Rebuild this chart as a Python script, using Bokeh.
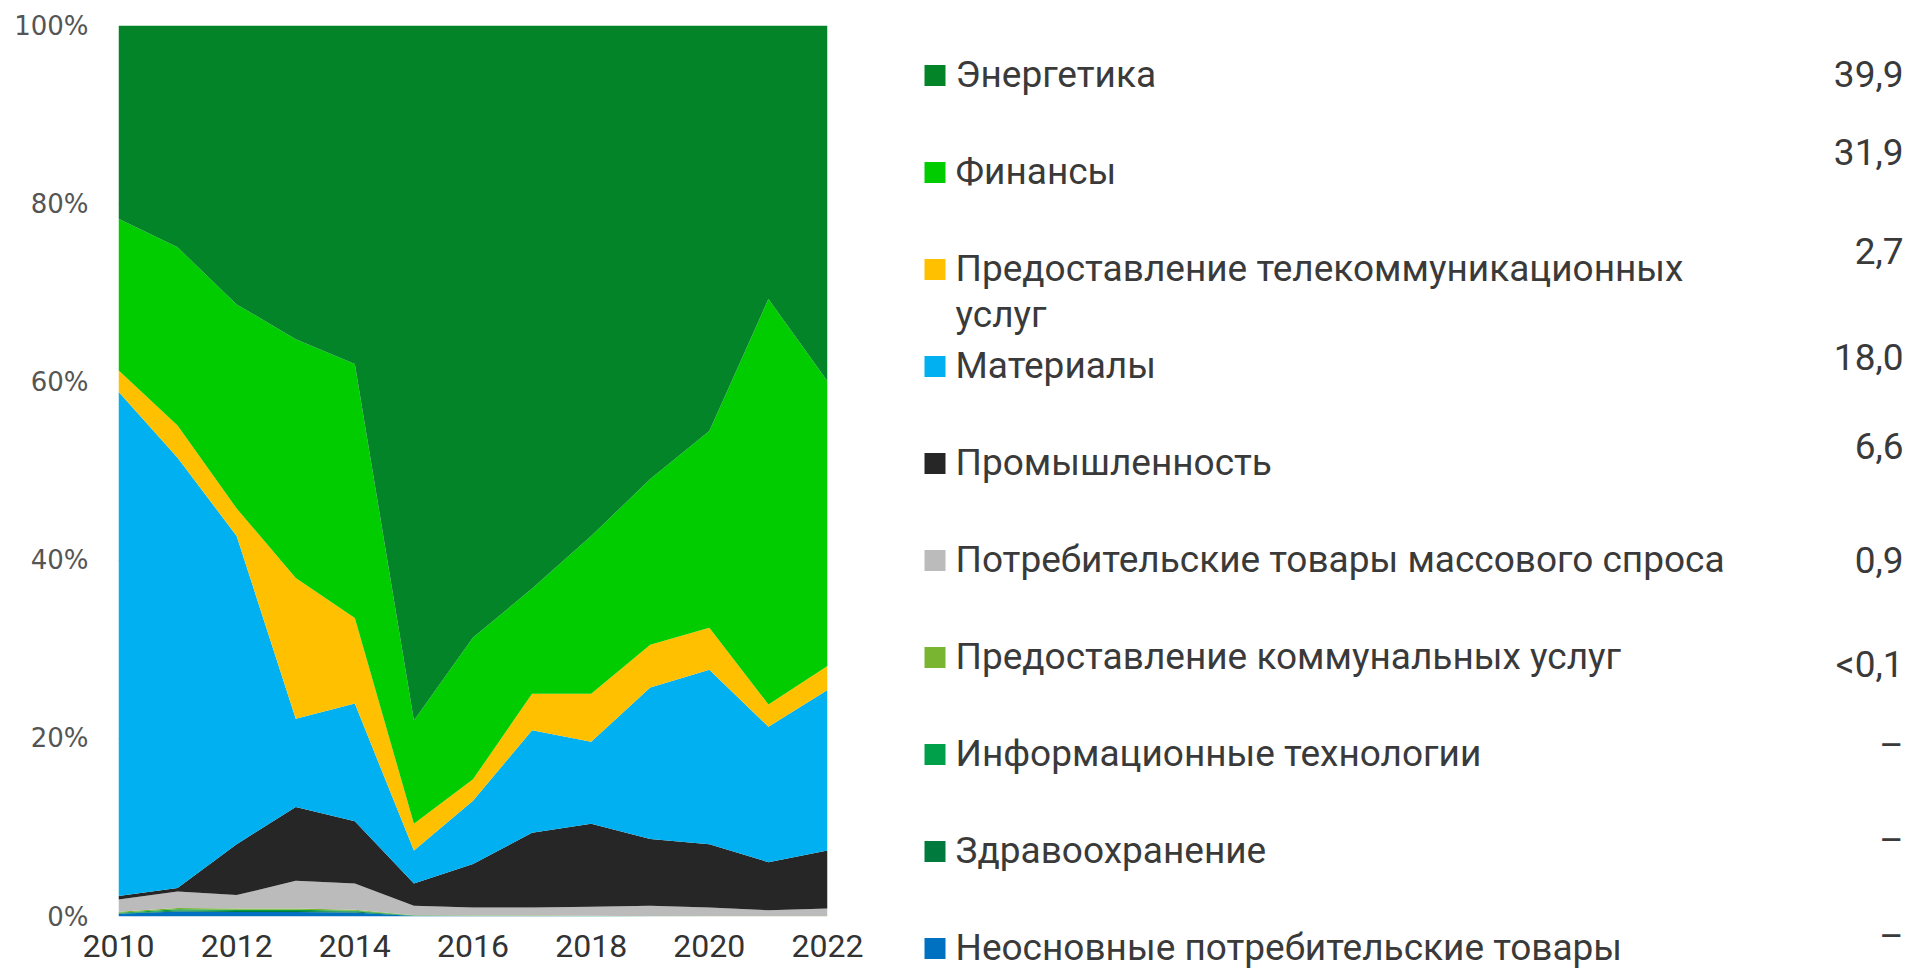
from bokeh.plotting import figure
from bokeh.models import FixedTicker, PrintfTickFormatter, Range1d, ColumnDataSource
from bokeh.embed import file_html
from bokeh.resources import INLINE
from bokeh.core.properties import value

# ---------------- data ----------------
years = list(range(2010, 2023))

# shares, % (stack order: bottom -> top)
consumer_disc = [0.30, 0.55, 0.50, 0.50, 0.45, 0.05, 0.04, 0.03, 0.02, 0.00, 0.00, 0.00, 0.00]
healthcare    = [0.05, 0.12, 0.12, 0.12, 0.10, 0.03, 0.02, 0.02, 0.02, 0.01, 0.00, 0.00, 0.00]
info_tech     = [0.08, 0.13, 0.13, 0.13, 0.10, 0.03, 0.02, 0.02, 0.02, 0.01, 0.00, 0.00, 0.00]
utilities     = [0.10, 0.15, 0.15, 0.15, 0.10, 0.04, 0.03, 0.03, 0.03, 0.02, 0.02, 0.02, 0.02]
staples       = [1.37, 1.85, 1.50, 3.10, 2.95, 1.05, 0.89, 0.90, 1.01, 1.16, 0.98, 0.68, 0.88]
industrials   = [0.40, 0.40, 5.70, 8.30, 7.00, 2.50, 4.90, 8.40, 9.30, 7.50, 7.10, 5.40, 6.50]
materials     = [56.6, 48.3, 34.6, 9.9, 13.2, 3.7, 7.1, 11.5, 9.2, 17.0, 19.6, 15.2, 18.0]
telecom       = [2.4, 3.6, 3.1, 15.8, 9.6, 3.0, 2.4, 4.1, 5.4, 4.8, 4.7, 2.5, 2.7]
finance       = [17.0, 20.0, 22.9, 26.8, 28.5, 11.6, 15.9, 11.8, 17.7, 18.6, 22.1, 45.5, 31.9]
energy        = [21.7, 24.9, 31.3, 35.2, 38.0, 78.0, 68.7, 63.2, 57.3, 50.9, 45.5, 30.7, 39.9]

series_keys = ["consumer_disc", "healthcare", "info_tech", "utilities", "staples",
               "industrials", "materials", "telecom", "finance", "energy"]
series_data = [consumer_disc, healthcare, info_tech, utilities, staples,
               industrials, materials, telecom, finance, energy]
series_names = [
    "Неосновные потребительские товары",
    "Здравоохранение",
    "Информационные технологии",
    "Предоставление коммунальных услуг",
    "Потребительские товары массового спроса",
    "Промышленность",
    "Материалы",
    "Предоставление телекоммуникационных услуг",
    "Финансы",
    "Энергетика",
]
series_colors = ["#0070C0", "#007A3D", "#00A04A", "#7AB531", "#BBBBBB",
                 "#262626", "#00B0F0", "#FFC000", "#00CC00", "#038428"]

# latest values shown in the legend (same order as series, bottom -> top)
latest_values = ["–", "–", "–", "<0,1", "0,9", "6,6", "18,0", "2,7", "31,9", "39,9"]

y_ticks = [0, 20, 40, 60, 80, 100]
x_ticks = [2010, 2012, 2014, 2016, 2018, 2020, 2022]

# ---------------- chart ----------------
totals = [sum(s[i] for s in series_data) for i in range(len(years))]
src = {"year": years}
for k, s in zip(series_keys, series_data):
    src[k] = [v / t * 100.0 for v, t in zip(s, totals)]
source = ColumnDataSource(src)

FL, FT, FW, FH = 118, 25, 709, 891
p = figure(frame_width=FW, frame_height=FH, x_range=Range1d(2010, 2022), y_range=Range1d(0, 100),
           output_backend="svg", toolbar_location=None, title=None,
           min_border_left=FL, min_border_right=1908 - FL - FW, min_border_top=FT, min_border_bottom=56)
p.outline_line_color = None
p.background_fill_color = "white"

p.varea_stack(stackers=series_keys, x="year", color=series_colors, source=source)

p.xgrid.grid_line_color = None
p.ygrid.ticker = FixedTicker(ticks=y_ticks)
p.ygrid.grid_line_color = "#b5b5b5"
p.ygrid.grid_line_dash = "4 4"
p.ygrid.grid_line_width = 1

p.yaxis.ticker = FixedTicker(ticks=y_ticks)
p.yaxis.formatter = PrintfTickFormatter(format="%d%%")
p.yaxis.major_label_text_font = "DejaVu Sans"
p.yaxis.major_label_text_font_size = "26px"
p.yaxis.major_label_text_color = "#555555"
p.yaxis.major_label_standoff = 30

p.xaxis.ticker = FixedTicker(ticks=x_ticks)
p.xaxis.major_label_text_font = "Roboto"
p.xaxis.major_label_text_font_size = "32px"
p.xaxis.major_label_text_color = "#333333"
p.xaxis.major_label_standoff = 18

for ax in (p.xaxis[0], p.yaxis[0]):
    ax.axis_line_color = None
    ax.major_tick_line_color = None
    ax.minor_tick_line_color = None
    ax.major_tick_out = 0
    ax.major_tick_in = 0

# ---------------- legend (page-pixel ranges on the same figure) ----------------
p.extra_x_ranges = {"lx": Range1d(FL, FL + FW)}
p.extra_y_ranges = {"ly": Range1d(FT + FH, FT)}

row_top = 85.5
row_step = 97.0
sq = 21
sq_x = 924
lab_x0 = 955
val_x0 = 1903
line_gap = 46
text_dy = -12
value_shift = [0, -19, -17, -8, -16, 1, 8, -8, -10, -11]   # layout tweaks per legend row
wrap = {"Предоставление телекоммуникационных услуг": ["Предоставление телекоммуникационных", "услуг"]}

order = list(range(len(series_names)))[::-1]  # legend top -> bottom
sq_l, sq_r, sq_t, sq_b, sq_c = [], [], [], [], []
lab_x, lab_y, lab_t = [], [], []
val_x, val_y, val_t = [], [], []
for r, idx in enumerate(order):
    base = row_top + r * row_step
    sq_l.append(sq_x); sq_r.append(sq_x + sq); sq_t.append(base - sq); sq_b.append(base)
    sq_c.append(series_colors[idx])
    lines = wrap.get(series_names[idx], [series_names[idx]])
    for j, ln in enumerate(lines):
        lab_x.append(lab_x0); lab_y.append(base + j * line_gap + text_dy); lab_t.append(ln)
    val_x.append(val_x0); val_y.append(base + value_shift[r] + text_dy); val_t.append(latest_values[idx])

p.quad(left=sq_l, right=sq_r, top=sq_t, bottom=sq_b, fill_color=sq_c, line_color=None,
       x_range_name="lx", y_range_name="ly", level="overlay")
p.text(x=lab_x, y=lab_y, text=lab_t, text_font=value("Roboto"), text_font_size="37px",
       text_color="#3a3a3a", text_baseline="alphabetic", text_align="left",
       x_range_name="lx", y_range_name="ly", level="overlay")
p.text(x=val_x, y=val_y, text=val_t, text_font=value("Roboto"), text_font_size="37px",
       text_color="#3a3a3a", text_baseline="alphabetic", text_align="right",
       x_range_name="lx", y_range_name="ly", level="overlay")

html = file_html(p, INLINE)
html = html.replace("<head>", "<head><style>html, body { overflow: hidden; }</style>", 1)
open("out.html", "w").write(html)
